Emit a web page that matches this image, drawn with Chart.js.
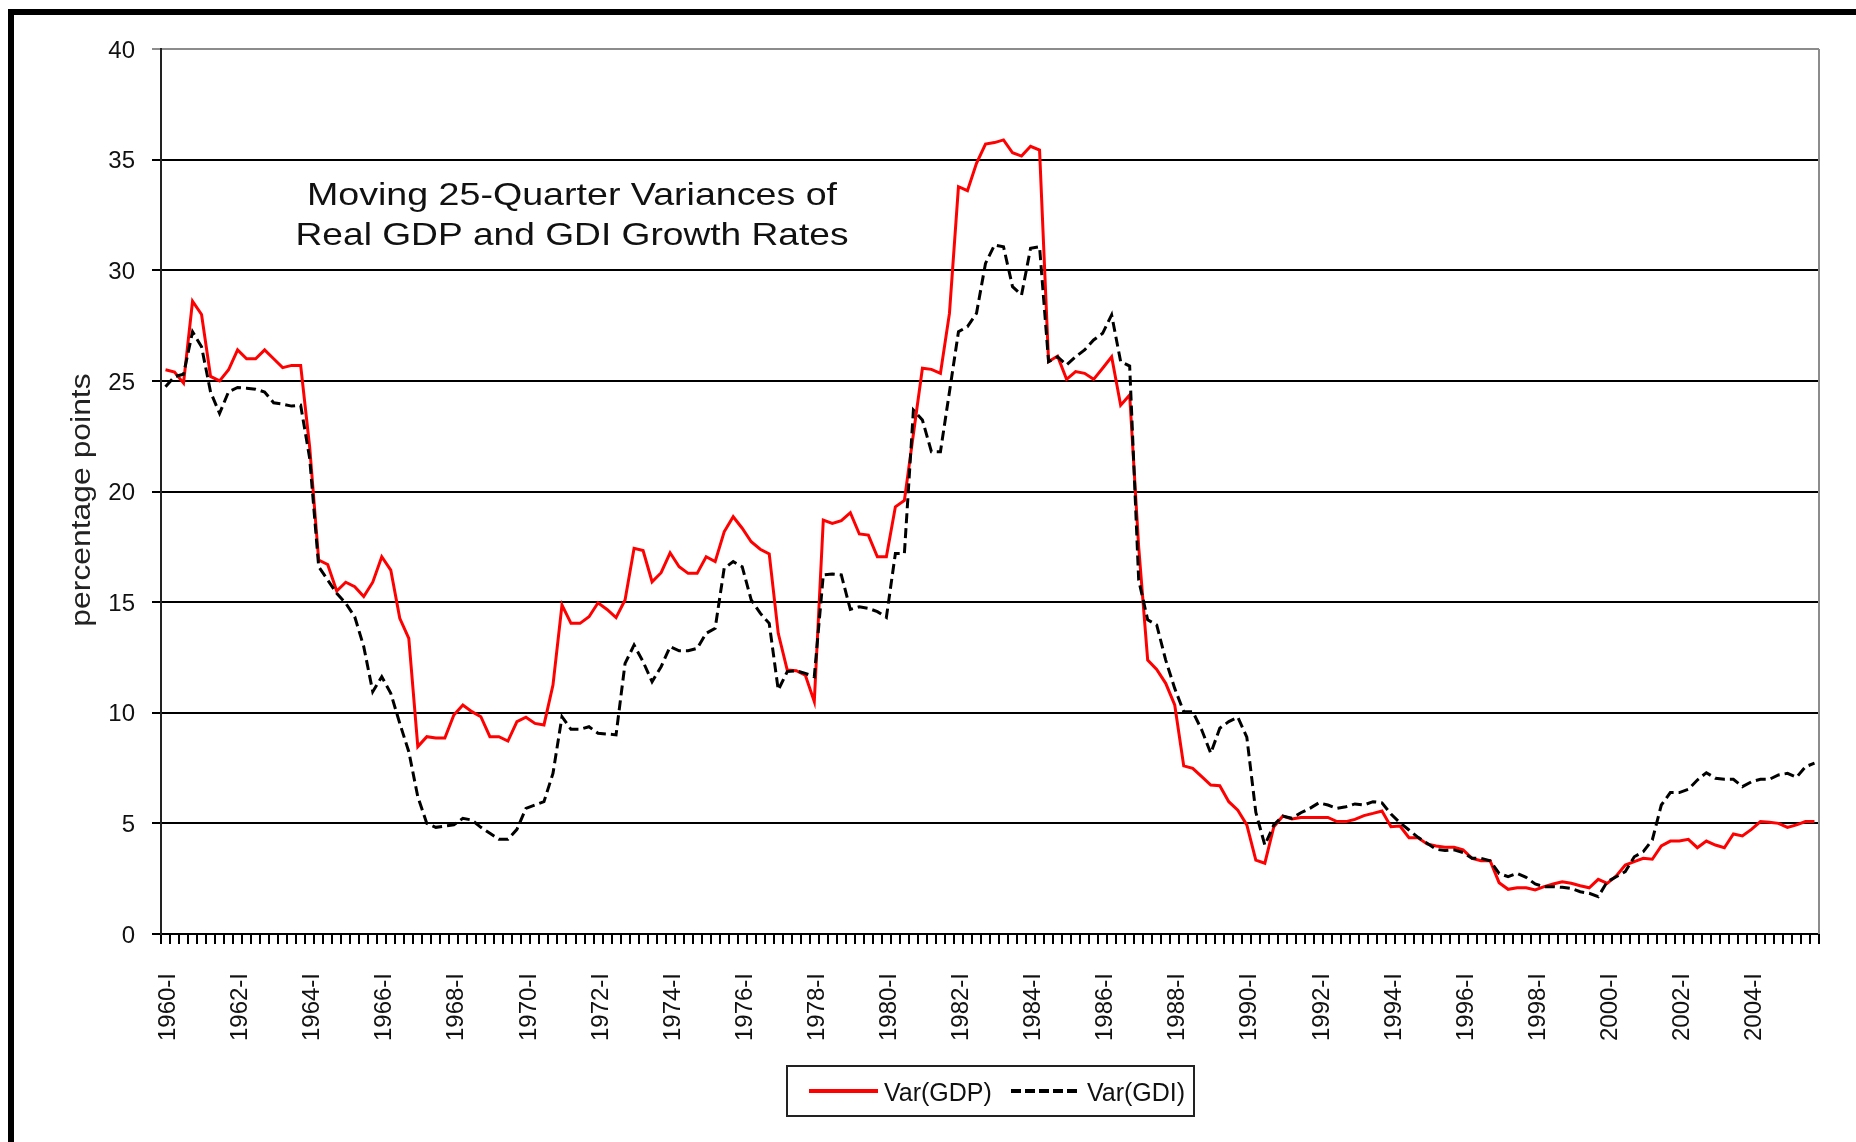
<!DOCTYPE html>
<html>
<head>
<meta charset="utf-8">
<script src="https://cdn.jsdelivr.net/npm/chart.js@4.4.1/dist/chart.umd.min.js"></script>
<style>
  html, body { margin: 0; padding: 0; background: #fff; }
  #wrap { position: relative; width: 1856px; height: 1142px; overflow: hidden; }
  #frame { position: absolute; left: 8px; top: 9px; width: 2000px; height: 2000px;
           border-top: 6px solid #000; border-left: 6px solid #000; }
  canvas { position: absolute; left: 0; top: 0; }
</style>
</head>
<body>
<div id="wrap">
  <div id="frame"></div>
  <canvas id="chart" width="1856" height="1142"></canvas>
</div>
<script>
/* --------------- Categories (quarters) --------------------- */
const years = [];
for (let y = 1960; y <= 2005; y++) years.push(y);
const quarters = ['I', 'II', 'III', 'IV'];
const categories = [];
years.forEach((y) => quarters.forEach((q) => categories.push(y + '-' + q)));

/* --------------- Series (two years per row) --------------------- */
const gdpVar = [
  25.5, 25.4, 24.9, 28.6, 28.0, 25.2, 25.0, 25.5,
  26.4, 26.0, 26.0, 26.4, 26.0, 25.6, 25.7, 25.7,
  22.0, 16.9, 16.7, 15.5, 15.9, 15.7, 15.25, 15.9,
  17.05, 16.45, 14.27, 13.36, 8.47, 8.92, 8.86, 8.86,
  9.9, 10.35, 10.05, 9.82, 8.92, 8.92, 8.72, 9.6,
  9.8, 9.52, 9.45, 11.25, 14.87, 14.04, 14.04, 14.34,
  14.97, 14.67, 14.3, 15.1, 17.43, 17.33, 15.92, 16.33,
  17.23, 16.6, 16.3, 16.3, 17.05, 16.83, 18.18, 18.86,
  18.34, 17.73, 17.39, 17.18, 13.59, 11.93, 11.9, 11.7,
  10.5, 18.71, 18.56, 18.68, 19.04, 18.08, 18.03, 17.05,
  17.05, 19.31, 19.6, 22.6, 25.57, 25.52, 25.34, 28.05,
  33.78, 33.6, 34.83, 35.7, 35.77, 35.89, 35.31, 35.16,
  35.6, 35.43, 25.87, 26.12, 25.07, 25.42, 25.34, 25.07,
  25.57, 26.09, 23.9, 24.36, 17.5, 12.38, 11.96, 11.33,
  10.35, 7.6, 7.49, 7.11, 6.73, 6.7, 5.98, 5.6,
  4.93, 3.34, 3.2, 4.85, 5.33, 5.2, 5.27, 5.27,
  5.27, 5.27, 5.08, 5.08, 5.18, 5.35, 5.45, 5.56,
  4.85, 4.88, 4.35, 4.35, 4.07, 3.98, 3.92, 3.92,
  3.8, 3.42, 3.31, 3.31, 2.32, 2.02, 2.09, 2.09,
  1.99, 2.14, 2.26, 2.36, 2.29, 2.18, 2.09, 2.47,
  2.29, 2.62, 3.12, 3.27, 3.42, 3.38, 3.98, 4.2,
  4.2, 4.28, 3.9, 4.2, 4.02, 3.9, 4.52, 4.43,
  4.73, 5.08, 5.05, 5.0, 4.82, 4.93, 5.08, 5.08,
];
const gdiVar = [
  24.73, 25.19, 25.3, 27.22, 26.54, 24.5, 23.53, 24.51,
  24.7, 24.67, 24.62, 24.5, 24.01, 23.95, 23.86, 23.9,
  21.5, 16.6, 16.0, 15.4, 14.95, 14.34, 12.99, 10.95,
  11.63, 10.88, 9.52, 8.24, 6.2, 5.0, 4.82, 4.88,
  4.93, 5.23, 5.15, 4.82, 4.55, 4.28, 4.28, 4.73,
  5.68, 5.83, 5.98, 7.26, 9.82, 9.25, 9.25, 9.37,
  9.07, 9.04, 9.0, 12.23, 13.06, 12.31, 11.4, 12.08,
  12.99, 12.8, 12.8, 12.91, 13.59, 13.82, 16.53, 16.83,
  16.6, 15.1, 14.5, 14.04, 11.03, 11.86, 11.9, 11.78,
  11.63, 16.23, 16.27, 16.23, 14.67, 14.79, 14.72, 14.57,
  14.31, 17.2, 17.2, 23.68, 23.23, 21.8, 21.8, 24.5,
  27.22, 27.45, 28.05, 30.31, 31.14, 31.06, 29.26, 28.88,
  30.99, 31.06, 25.87, 26.09, 25.72, 26.09, 26.4, 26.85,
  27.15, 27.98, 25.87, 25.67, 16.0, 14.2, 13.97, 12.38,
  11.1, 10.05, 10.05, 9.22, 8.17, 9.3, 9.6, 9.8,
  8.9, 5.5, 4.02, 4.93, 5.33, 5.23, 5.48, 5.68,
  5.93, 5.83, 5.68, 5.75, 5.88, 5.83, 5.98, 5.93,
  5.42, 5.03, 4.7, 4.37, 4.1, 3.83, 3.77, 3.8,
  3.68, 3.42, 3.42, 3.31, 2.74, 2.59, 2.74, 2.56,
  2.26, 2.14, 2.14, 2.11, 2.06, 1.91, 1.84, 1.69,
  2.36, 2.59, 2.82, 3.49, 3.72, 4.25, 5.83, 6.39,
  6.39, 6.54, 6.96, 7.29, 7.04, 6.99, 6.99, 6.66,
  6.88, 6.99, 6.99, 7.19, 7.26, 7.08, 7.56, 7.72,
];

const titleLines = ['Moving 25-Quarter Variances of', 'Real GDP and GDI Growth Rates'];
const yTitle = 'percentage points';
const seriesNames = ['Var(GDP)', 'Var(GDI)'];

const FONT = '"Liberation Sans", Arial, sans-serif';

// text stretched along its reading direction, like the original's wide lettering
function wideText(ctx, text, x, y, sx) {
  ctx.save();
  ctx.translate(x, y);
  ctx.scale(sx, 1);
  ctx.fillText(text, 0, 0);
  ctx.restore();
}

/* --------------- Title, axis title, legend, right border --------------------- */
const decorPlugin = {
  id: 'decor',
  afterDraw(chart) {
    const ctx = chart.ctx;
    const a = chart.chartArea;
    ctx.save();
    // right border of plot area
    ctx.strokeStyle = '#8c8c8c';
    ctx.lineWidth = 2;
    ctx.beginPath();
    ctx.moveTo(a.right, a.top);
    ctx.lineTo(a.right, a.bottom);
    ctx.stroke();

    // title inside plot
    ctx.fillStyle = '#111';
    ctx.font = '32px ' + FONT;
    ctx.textAlign = 'center';
    ctx.textBaseline = 'alphabetic';
    wideText(ctx, titleLines[0], 572, 205, 1.175);
    wideText(ctx, titleLines[1], 572, 245, 1.16);

    // y axis title
    ctx.save();
    ctx.translate(83, 500);
    ctx.rotate(-Math.PI / 2);
    ctx.font = '27px ' + FONT;
    ctx.textBaseline = 'middle';
    ctx.fillStyle = '#222';
    wideText(ctx, yTitle, 0, 0, 1.18);
    ctx.restore();

    // legend box
    ctx.strokeStyle = '#222';
    ctx.lineWidth = 2;
    ctx.strokeRect(787, 1066, 407, 50);
    ctx.lineWidth = 4;
    ctx.strokeStyle = '#ff0000';
    ctx.beginPath();
    ctx.moveTo(809, 1091);
    ctx.lineTo(878, 1091);
    ctx.stroke();
    ctx.strokeStyle = '#000';
    ctx.setLineDash([10, 4]);
    ctx.beginPath();
    ctx.moveTo(1011, 1091);
    ctx.lineTo(1080, 1091);
    ctx.stroke();
    ctx.setLineDash([]);
    ctx.font = '25px ' + FONT;
    ctx.textAlign = 'left';
    ctx.fillStyle = '#111';
    ctx.fillText(seriesNames[0], 884, 1101);
    ctx.fillText(seriesNames[1], 1087, 1101);
    ctx.restore();
  },
};

new Chart(document.getElementById('chart'), {
  type: 'line',
  plugins: [decorPlugin],
  data: {
    labels: categories,
    datasets: [
      {
        label: seriesNames[0],
        data: gdpVar,
        borderColor: '#ff0000',
        borderWidth: 3,
        pointRadius: 0,
        tension: 0,
        order: 2,
      },
      {
        label: seriesNames[1],
        data: gdiVar,
        borderColor: '#000000',
        borderWidth: 3,
        borderDash: [10, 5],
        pointRadius: 0,
        tension: 0,
        order: 1,
      },
    ],
  },
  options: {
    responsive: false,
    animation: false,
    devicePixelRatio: 1,
    layout: { padding: { top: 49, right: 37, left: 0, bottom: 0 } },
    plugins: { legend: { display: false }, tooltip: { enabled: false } },
    scales: {
      x: {
        offset: true,
        grid: { offset: true, drawOnChartArea: false, drawTicks: true, tickLength: 10, color: '#000', lineWidth: 2 },
        border: { display: true, color: '#000', width: 2 },
        ticks: {
          autoSkip: false,
          minRotation: 90,
          maxRotation: 90,
          padding: 29,
          labelOffset: 3,
          color: '#111',
          font: { family: FONT, size: 24 },
          callback: (v, i) => (i % 8 === 0 ? categories[i] : ''),
        },
        afterFit: (s) => {
          s.height = 208;
          s.paddingLeft = 0;
          s.paddingRight = 0;
        },
      },
      y: {
        min: 0,
        max: 40,
        ticks: { stepSize: 5, padding: 17, labelOffset: 2, color: '#111', font: { family: FONT, size: 24 } },
        grid: {
          color: (c) => (c.tick && c.tick.value === 40 ? '#8c8c8c' : '#000'),
          lineWidth: 2,
          tickLength: 9,
        },
        border: { color: '#222', width: 2 },
        afterFit: (s) => { s.width = 161; },
      },
    },
  },
});
</script>
</body>
</html>
